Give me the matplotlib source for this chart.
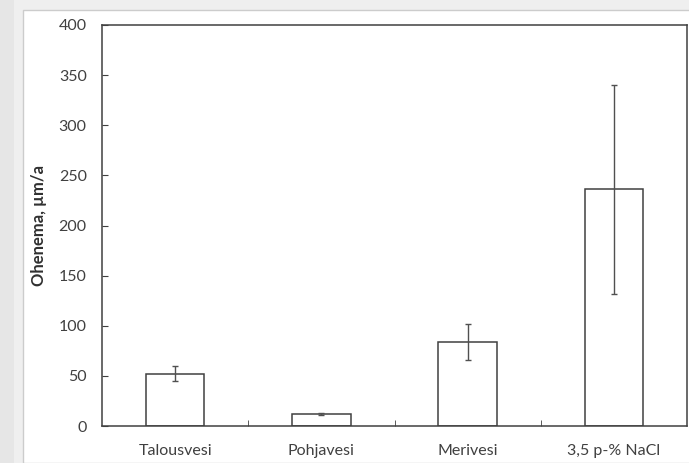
import numpy as np
import matplotlib
matplotlib.use("Agg")
import matplotlib.pyplot as plt
from matplotlib.patches import Rectangle

categories = ["Talousvesi", "Pohjavesi", "Merivesi", "3,5 p-% NaCl"]
values = [52, 12, 84, 236]
errors = [7.5, 1, 18, 104]
yticks = [0, 50, 100, 150, 200, 250, 300, 350, 400]

plt.rcParams['font.family'] = ['Lato', 'DejaVu Sans']

fig = plt.figure(figsize=(6.89, 4.63), dpi=100)
fig.patch.set_facecolor('#e6e6e6')
# white slide panel behind the chart
fig.patches.append(Rectangle((14 / 689, 0), 1, 1, transform=fig.transFigure,
                             facecolor='#efefef', edgecolor='none', zorder=-2))
fig.patches.append(Rectangle((23 / 689, 0), 1, 1 - 10 / 463, transform=fig.transFigure,
                             facecolor='white', edgecolor='#cccccc', lw=1, zorder=-1))

ax = fig.add_axes([102 / 689, 37 / 463, 585 / 689, 401 / 463])
ax.set_facecolor('white')

x = np.arange(len(categories))
ax.bar(x, values, width=0.4, color='white', edgecolor='#404040', linewidth=1.1)
ax.errorbar(x, values, yerr=errors, fmt='none', ecolor='#505050',
            elinewidth=1, capsize=2.5, capthick=1)

ax.set_xlim(-0.5, len(categories) - 0.5)
ax.set_ylim(0, 400)
ax.set_yticks(yticks)
ax.set_yticklabels([str(v) for v in yticks], fontsize=11.5, color='#404040')

ax.set_xticks(x)
ax.set_xticklabels(categories, fontsize=11.5, color='#404040')
ax.tick_params(axis='x', length=0, pad=13)
ax.set_xticks(x[:-1] + 0.5, minor=True)
ax.tick_params(axis='x', which='minor', direction='in', length=4, color='#404040')
ax.tick_params(axis='y', direction='in', length=4, pad=11, color='#404040')

for s in ax.spines.values():
    s.set_color('#404040')
    s.set_linewidth(1.1)

ax.set_ylabel("Ohenema, µm/a", fontsize=12, fontweight='bold', color='#303030', labelpad=8)

fig.savefig("out.png", dpi=100, facecolor=fig.get_facecolor())
